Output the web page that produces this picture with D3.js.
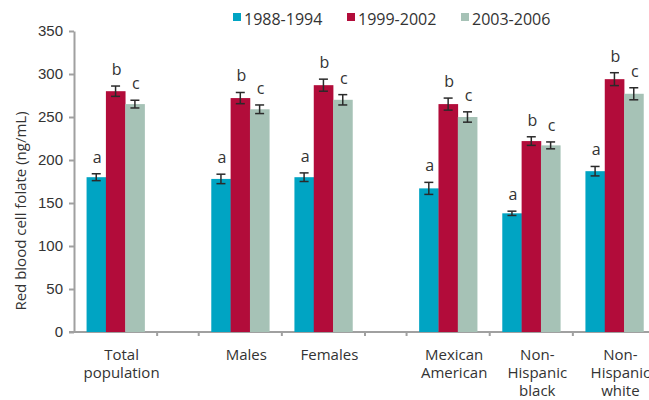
<!doctype html>
<html lang="en">
<head>
<meta charset="utf-8">
<title>Red blood cell folate</title>
<script src="https://cdn.jsdelivr.net/npm/d3@7"></script>
<style>
  body { margin: 0; background: #fff; }
  svg { font-family: "Open Sans", sans-serif; }
  .axis path, .axis line { stroke: #a0a0a0; stroke-width: 2px; }
  .axis text { fill: #333; font-size: 15px; }
</style>
</head>
<body>
<svg id="chart" width="649" height="400"></svg>
<script>
// categories, "" = empty spacer slot
var categories = ["Total\npopulation", "", "Males", "Females", "", "Mexican\nAmerican", "Non-\nHispanic\nblack", "Non-\nHispanic\nwhite"];
var series = ["1988-1994", "1999-2002", "2003-2006"];
var colors = ["#00a4c3", "#b20c3a", "#a6c2b6"];
var letters = ["a", "b", "c"];
var yTicks = [0, 50, 100, 150, 200, 250, 300, 350];

// values for the 6 real groups
var v1988 = [180, 178, 180, 167, 138, 187];
var v1999 = [280, 272, 287, 265, 222, 294];
var v2003 = [265, 259, 270, 250, 217, 277];
var e1988 = [4, 5.5, 5, 7, 2.5, 5.5];
var e1999 = [6, 6.5, 7, 7, 5, 7.5];
var e2003 = [4.5, 5, 6, 6, 4, 7];

var values = [v1988, v1999, v2003];
var errs = [e1988, e1999, e2003];

var svg = d3.select("#chart");

// slot widths: spacer = 1, category = 2
var slots = categories.map(function(c) { return c === "" ? 1 : 2; });
var starts = [], acc = 0;
slots.forEach(function(s) { starts.push(acc); acc += s; });

var x = d3.scaleLinear().domain([0, acc]).range([74, 656]);
var y = d3.scaleLinear().domain([0, 350]).range([332, 31]);
var groupW = 58;
var xs = d3.scaleBand().domain(series).range([0, groupW]);

var groups = [];
categories.forEach(function(c, i) { if (c !== "") groups.push({ name: c, start: starts[i], w: slots[i] }); });

// y axis
svg.append("g")
    .attr("class", "axis")
    .attr("transform", "translate(74,0)")
    .call(d3.axisLeft(y).tickValues(yTicks).tickSize(5).tickSizeOuter(0).tickPadding(6));

// x axis
var xg = svg.append("g").attr("class", "axis");
xg.append("line").attr("x1", 69).attr("x2", 649).attr("y1", y(0)).attr("y2", y(0));
var bounds = starts.slice(1);
xg.selectAll(".xt").data(bounds).enter().append("line")
    .attr("x1", function(d) { return x(d); }).attr("x2", function(d) { return x(d); })
    .attr("y1", y(0)).attr("y2", y(0) + 4);

// bars
groups.forEach(function(g, gi) {
  var cx = (x(g.start) + x(g.start + g.w)) / 2;
  var left = cx - groupW / 2;
  series.forEach(function(s, si) {
    var v = values[si][gi], e = errs[si][gi];
    var bx = left + xs(s), bw = xs.bandwidth();
    svg.append("rect")
        .attr("x", bx).attr("y", y(v))
        .attr("width", bw + 0.3).attr("height", y(0) - y(v))
        .attr("fill", colors[si]);
    var mx = bx + bw / 2;
    var eb = svg.append("g").attr("stroke", "#2a2a2a").attr("stroke-width", 1.5);
    eb.append("line").attr("x1", mx).attr("x2", mx).attr("y1", y(v + e)).attr("y2", y(v - e));
    eb.append("line").attr("x1", mx - 4.5).attr("x2", mx + 4.5).attr("y1", y(v + e)).attr("y2", y(v + e));
    eb.append("line").attr("x1", mx - 4.5).attr("x2", mx + 4.5).attr("y1", y(v - e)).attr("y2", y(v - e));
    svg.append("text")
        .attr("x", mx + 1).attr("y", y(v + e) - 11)
        .attr("text-anchor", "middle")
        .attr("font-size", 16).attr("fill", "#333")
        .text(letters[si]);
  });
  // category label
  var t = svg.append("text")
      .attr("text-anchor", "middle")
      .attr("font-size", 15).attr("fill", "#333");
  g.name.split("\n").forEach(function(line, li) {
    t.append("tspan").attr("x", cx + 6).attr("y", 360 + li * 18).text(line);
  });
});

// y title
svg.append("text")
    .attr("transform", "translate(26," + 211 + ") rotate(-90)")
    .attr("text-anchor", "middle")
    .attr("font-size", 15).attr("fill", "#333")
    .text("Red blood cell folate (ng/mL)");

// legend
var leg = svg.append("g");
series.forEach(function(s, i) {
  var lx = 233 + i * 114;
  leg.append("rect").attr("x", lx).attr("y", 13).attr("width", 8).attr("height", 8).attr("fill", colors[i]);
  leg.append("text").attr("x", lx + 11).attr("y", 25)
      .attr("font-size", 16).attr("fill", "#333").text(s);
});
</script>
</body>
</html>
